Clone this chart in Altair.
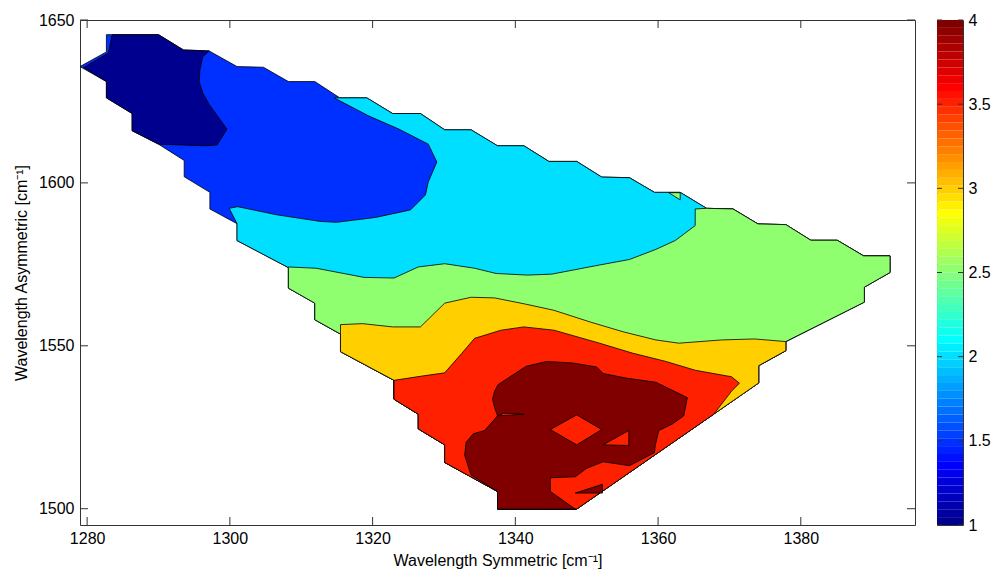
import altair as alt
import pandas as pd

# ---------------- data ----------------
X_DOMAIN = [1279, 1396]
Y_DOMAIN = [1495, 1650]
X_TICKS = [1280, 1300, 1320, 1340, 1360, 1380]
Y_TICKS = [1500, 1550, 1600, 1650]
CB_TICKS = [1, 1.5, 2, 2.5, 3, 3.5, 4]
CB_DOMAIN = [1, 4]

# outer boundary of the measured region (clockwise)
OUTER_X = [1279.0, 1282.7, 1282.7, 1290.0, 1293.5, 1297.1, 1301.0, 1304.7, 1308.2, 1311.9,
           1315.4, 1319.2, 1322.8, 1326.7, 1330.1, 1333.8, 1337.5, 1341.2, 1344.7, 1348.6,
           1352.1, 1356.0, 1359.5, 1363.1, 1366.8, 1370.5, 1374.0, 1377.9, 1381.4, 1385.1,
           1388.8, 1392.5, 1392.5, 1388.9, 1388.9, 1377.9, 1377.9, 1374.1, 1374.1, 1348.6,
           1337.5, 1337.5, 1330.1, 1330.1, 1326.4, 1326.4, 1323.0, 1323.0, 1315.5, 1315.5,
           1311.9, 1311.9, 1308.2, 1308.2, 1301.0, 1301.0, 1297.2, 1297.2, 1293.6, 1293.6,
           1290.0, 1286.3, 1286.3, 1282.7, 1282.7]
OUTER_Y = [1635.7, 1640.2, 1645.5, 1645.5, 1640.8, 1640.5, 1635.7, 1635.5, 1631.1, 1631.1,
           1626.1, 1626.1, 1621.3, 1621.3, 1616.3, 1616.3, 1611.4, 1611.4, 1606.6, 1606.6,
           1601.8, 1601.6, 1597.1, 1597.1, 1592.2, 1592.0, 1587.4, 1587.2, 1582.4, 1582.4,
           1577.6, 1577.6, 1572.5, 1568.0, 1563.4, 1551.3, 1548.5, 1543.9, 1538.6, 1499.9,
           1499.9, 1505.3, 1514.2, 1519.6, 1524.5, 1529.0, 1533.6, 1539.4, 1548.2, 1553.6,
           1558.0, 1563.1, 1567.7, 1574.0, 1582.3, 1587.5, 1592.0, 1597.1, 1601.9, 1606.9,
           1611.9, 1616.0, 1621.3, 1626.1, 1631.1]

# level 1 region (top-left)
NAVY_X = [1279.5, 1283.0, 1283.5, 1290.0, 1293.5, 1297.1, 1296.2, 1295.8, 1295.7, 1296.2,
          1297.1, 1299.6, 1298.2, 1296.4, 1290.0, 1286.3, 1286.3, 1282.7, 1282.7]
NAVY_Y = [1635.4, 1639.9, 1645.5, 1645.5, 1640.8, 1640.5, 1638.7, 1634.7, 1631.1, 1627.6,
          1624.1, 1616.5, 1611.6, 1611.4, 1611.9, 1616.0, 1621.3, 1626.1, 1631.1]

# contour 2 (blue / cyan)
CYAN_BX = [1299.9, 1301.1, 1306.6, 1312.6, 1314.9, 1320.4, 1325.3, 1327.4, 1327.8, 1329.0,
           1327.8, 1323.7, 1319.5, 1314.6]
CYAN_BY = [1592.2, 1592.7, 1590.2, 1588.2, 1587.9, 1589.4, 1591.7, 1596.3, 1600.3, 1606.4,
           1611.9, 1616.5, 1620.5, 1626.1]

# contour 2.5 (cyan / green)
GREEN_BX = [1308.2, 1312.1, 1318.8, 1323.0, 1326.4, 1330.1, 1334.3, 1337.3, 1341.7, 1345.1,
            1351.8, 1356.0, 1359.7, 1362.4, 1365.2, 1365.2]
GREEN_BY = [1574.2, 1573.8, 1571.0, 1570.8, 1574.2, 1575.2, 1573.8, 1572.2, 1571.7, 1572.0,
            1574.8, 1576.5, 1579.6, 1582.3, 1586.9, 1592.0]
GREEN_TRI_X = [1361.5, 1363.1, 1363.1]
GREEN_TRI_Y = [1597.0, 1597.0, 1594.8]

# contour 3 (green / yellow)
YEL_BX = [1315.5, 1318.6, 1322.8, 1326.7, 1330.1, 1333.8, 1337.1, 1341.2, 1345.4, 1350.5,
          1355.1, 1359.7, 1362.9, 1368.9, 1373.5]
YEL_BY = [1556.5, 1556.8, 1555.8, 1555.8, 1563.1, 1564.9, 1564.7, 1562.9, 1560.9, 1557.3,
          1554.3, 1551.8, 1550.8, 1551.8, 1552.1]

# contour 3.5 (yellow / red)
RED_BX = [1326.9, 1330.1, 1332.5, 1334.3, 1338.0, 1341.2, 1345.4, 1351.8, 1356.5, 1361.1,
          1365.2, 1370.3, 1371.4, 1370.3, 1367.8]
RED_BY = [1540.7, 1541.7, 1547.7, 1552.3, 1554.8, 1555.8, 1554.8, 1550.8, 1547.7, 1545.2,
          1542.5, 1540.5, 1538.5, 1536.1, 1529.0]

# level 4 region (dark red)
DR_X = [1336.8, 1337.1, 1337.6, 1339.4, 1341.5, 1344.4, 1348.1, 1351.4, 1352.3, 1355.5,
        1359.7, 1364.1, 1363.6, 1362.0, 1360.1, 1359.6, 1359.5, 1356.0, 1352.3, 1350.0,
        1348.4, 1344.9, 1344.9, 1348.4, 1337.5, 1337.5, 1333.8, 1332.9, 1333.1, 1334.1,
        1335.7, 1337.5, 1337.1]
DR_Y = [1533.6, 1536.1, 1538.1, 1540.7, 1543.7, 1545.2, 1544.7, 1543.5, 1541.5, 1540.1,
        1538.8, 1534.1, 1528.5, 1526.0, 1524.0, 1519.4, 1517.2, 1513.2, 1514.4, 1512.4,
        1509.8, 1509.5, 1505.3, 1499.9, 1499.9, 1505.3, 1510.3, 1516.4, 1520.4, 1523.0,
        1524.0, 1528.5, 1531.0]
HOLE_DIAMOND_X = [1344.9, 1348.6, 1352.1, 1348.6]
HOLE_DIAMOND_Y = [1524.3, 1528.8, 1524.3, 1519.6]
HOLE_TRI_X = [1352.3, 1355.9, 1355.9]
HOLE_TRI_Y = [1519.6, 1524.0, 1519.4]
HOLE_SLIVER_X = [1337.5, 1341.2, 1338.4]
HOLE_SLIVER_Y = [1528.5, 1529.0, 1529.3]
DR_SMALL_X = [1348.4, 1352.2, 1352.2]
DR_SMALL_Y = [1504.8, 1507.5, 1504.8]

# ---------------- styling ----------------
NAVY, BLUE, CYAN, GREEN = "#00008F", "#0030FF", "#00DFFF", "#8FFF70"
YELLOW, RED, DRED = "#FFCF00", "#FF2000", "#800000"
FONT = "Liberation Sans"
W, H = 835, 505
EDGE = "#000000"
FRAME = "#333333"
TICK_LEN = 8


def pts(xs, ys):
    return list(zip(xs, ys))


def outer_slice(a, b):
    return pts(OUTER_X[a:b + 1], OUTER_Y[a:b + 1])


polygons = [
    (pts(OUTER_X, OUTER_Y), BLUE),
    (pts(NAVY_X, NAVY_Y), NAVY),
    (outer_slice(10, 55) + pts(CYAN_BX, CYAN_BY), CYAN),
    (outer_slice(24, 53) + pts(GREEN_BX, GREEN_BY), GREEN),
    (pts(GREEN_TRI_X, GREEN_TRI_Y), GREEN),
    (outer_slice(35, 49) + pts(YEL_BX, YEL_BY), YELLOW),
    (outer_slice(39, 47) + pts(RED_BX, RED_BY), RED),
    (pts(DR_X, DR_Y), DRED),
    (pts(HOLE_DIAMOND_X, HOLE_DIAMOND_Y), RED),
    (pts(HOLE_TRI_X, HOLE_TRI_Y), RED),
    (pts(HOLE_SLIVER_X, HOLE_SLIVER_Y), RED),
    (pts(DR_SMALL_X, DR_SMALL_Y), DRED),
]

xs = alt.Scale(domain=X_DOMAIN, nice=False, zero=False)
ys = alt.Scale(domain=Y_DOMAIN, nice=False, zero=False)

x_axis = alt.Axis(values=X_TICKS, title="Wavelength Symmetric [cm\u207b\u00b9]",
                  labelPadding=5, titlePadding=6, format="d")
y_axis = alt.Axis(values=Y_TICKS, title="Wavelength Asymmetric [cm\u207b\u00b9]",
                  labelPadding=6, titlePadding=9, format="d")

layers = []
for k, (p, col) in enumerate(polygons):
    p = p + [p[0]]
    df = pd.DataFrame({"x": [q[0] for q in p], "y": [q[1] for q in p],
                       "i": list(range(len(p)))})
    layers.append(
        alt.Chart(df).mark_line(filled=True, fill=col, stroke=EDGE, strokeWidth=0.8,
                                strokeJoin="round").encode(
            x=alt.X("x:Q", scale=xs, axis=x_axis),
            y=alt.Y("y:Q", scale=ys, axis=y_axis),
            order=alt.Order("i:Q"),
        )
    )

xt = pd.DataFrame({"x": X_TICKS})
yt = pd.DataFrame({"y": Y_TICKS})
tick_layers = [
    alt.Chart(xt).mark_rule(color=FRAME, strokeWidth=1).encode(
        x=alt.X("x:Q", scale=xs, axis=x_axis), y=alt.value(H), y2=alt.value(H - TICK_LEN)),
    alt.Chart(xt).mark_rule(color=FRAME, strokeWidth=1).encode(
        x=alt.X("x:Q", scale=xs, axis=x_axis), y=alt.value(0), y2=alt.value(TICK_LEN)),
    alt.Chart(yt).mark_rule(color=FRAME, strokeWidth=1).encode(
        y=alt.Y("y:Q", scale=ys, axis=y_axis), x=alt.value(0), x2=alt.value(TICK_LEN)),
    alt.Chart(yt).mark_rule(color=FRAME, strokeWidth=1).encode(
        y=alt.Y("y:Q", scale=ys, axis=y_axis), x=alt.value(W - TICK_LEN), x2=alt.value(W)),
]

main = alt.layer(*layers, *tick_layers).properties(width=W, height=H)

# ---------------- colorbar (jet colormap, 64 steps) ----------------
N = 64


def jet(v):
    def c(t):
        return max(0.0, min(1.0, t))
    r = c(1.5 - abs(4 * v - 3))
    g = c(1.5 - abs(4 * v - 2))
    b = c(1.5 - abs(4 * v - 1))
    return "#%02X%02X%02X" % (round(r * 255), round(g * 255), round(b * 255))


lo = [CB_DOMAIN[0] + (CB_DOMAIN[1] - CB_DOMAIN[0]) * k / N for k in range(N)]
hi = [CB_DOMAIN[0] + (CB_DOMAIN[1] - CB_DOMAIN[0]) * (k + 1) / N for k in range(N)]
cols = [jet((k + 1) / N) for k in range(N)]
cb_df = pd.DataFrame({"v": lo, "hi": hi, "c": cols})
cb_scale = alt.Scale(domain=CB_DOMAIN, nice=False, zero=False)
cb_axis = alt.Axis(orient="right", values=CB_TICKS, title=None, labelPadding=5, format="~g")
CBW = 26

cbar_rect = alt.Chart(cb_df).mark_rect(strokeWidth=0).encode(
    y=alt.Y("v:Q", scale=cb_scale, axis=cb_axis),
    y2="hi:Q",
    color=alt.Color("c:N", scale=None),
)
cbt = pd.DataFrame({"v": CB_TICKS})
cbar_ticks = [
    alt.Chart(cbt).mark_rule(color=FRAME, strokeWidth=1).encode(
        y=alt.Y("v:Q", scale=cb_scale, axis=cb_axis), x=alt.value(0), x2=alt.value(5)),
    alt.Chart(cbt).mark_rule(color=FRAME, strokeWidth=1).encode(
        y=alt.Y("v:Q", scale=cb_scale, axis=cb_axis), x=alt.value(CBW - 5), x2=alt.value(CBW)),
]
cbar = alt.layer(cbar_rect, *cbar_ticks).properties(width=CBW, height=H)

chart = alt.hconcat(main, cbar, spacing=20).properties(
    padding={"left": 4, "top": 3, "right": 0, "bottom": 0}
).configure_view(
    stroke=FRAME, strokeWidth=1
).configure_axis(
    labelFont=FONT, titleFont=FONT, labelFontSize=16, titleFontSize=16,
    titleFontWeight="normal", labelColor="black", titleColor="black",
    domain=False, grid=False, ticks=False, tickSize=0, labelFlush=False,
)

chart.save("out.html", embed_options={"renderer": "svg", "actions": False})
